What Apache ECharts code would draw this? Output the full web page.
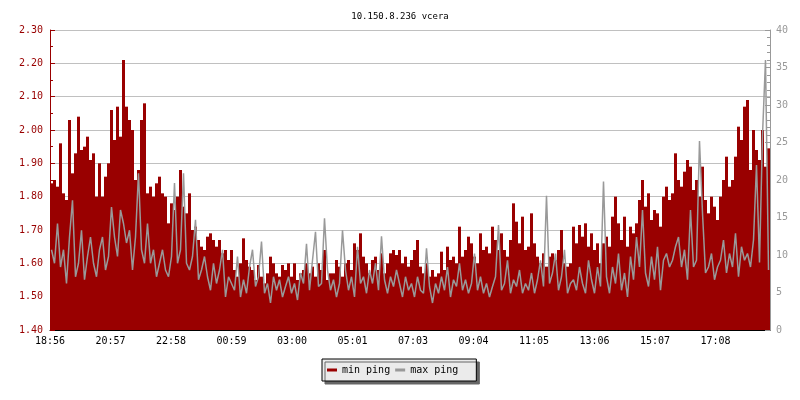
<!DOCTYPE html>
<html><head><meta charset="utf-8">
<script src="https://cdn.jsdelivr.net/npm/echarts@6/dist/echarts.min.js"></script>
<style>html,body{margin:0;padding:0;background:#fff}#c{width:800px;height:400px}</style>
</head><body><div id="c"></div>
<script>
const chartTitle = '10.150.8.236 vcera';
const seriesNames = ['min ping', 'max ping'];
const timeLabels = ['18:56','20:57','22:58','00:59','03:00','05:01','07:03','09:04','11:05','13:06','15:07','17:08'];
const sampleMinutes = 6;
const tickStepMinutes = 121;

// min ping (left axis, ms)
const minPing = [
1.84,1.85,1.83,1.96,1.81,1.79,2.03,1.87,1.93,2.04,
1.94,1.95,1.98,1.91,1.93,1.80,1.90,1.80,1.86,1.90,
2.06,1.97,2.07,1.98,2.21,2.07,2.03,2.00,1.85,1.88,
2.03,2.08,1.81,1.83,1.80,1.84,1.86,1.81,1.80,1.72,
1.78,1.76,1.80,1.88,1.77,1.75,1.81,1.70,1.71,1.67,
1.65,1.64,1.68,1.69,1.67,1.65,1.67,1.63,1.64,1.61,
1.64,1.58,1.56,1.60,1.675,1.61,1.59,1.58,1.55,1.595,
1.56,1.54,1.57,1.62,1.60,1.57,1.56,1.595,1.58,1.60,
1.56,1.60,1.55,1.57,1.58,1.60,1.57,1.59,1.56,1.60,
1.58,1.64,1.55,1.57,1.57,1.61,1.59,1.56,1.60,1.61,
1.58,1.66,1.64,1.69,1.62,1.60,1.57,1.61,1.62,1.58,
1.63,1.57,1.60,1.63,1.64,1.625,1.64,1.60,1.62,1.59,
1.61,1.64,1.67,1.59,1.57,1.60,1.56,1.58,1.56,1.57,
1.635,1.58,1.65,1.61,1.62,1.60,1.71,1.62,1.64,1.68,
1.66,1.62,1.60,1.69,1.64,1.65,1.63,1.71,1.67,1.64,
1.69,1.64,1.62,1.67,1.78,1.725,1.66,1.74,1.64,1.65,
1.75,1.66,1.62,1.60,1.63,1.59,1.62,1.63,1.61,1.64,
1.70,1.60,1.59,1.60,1.71,1.66,1.715,1.68,1.72,1.65,
1.69,1.64,1.66,1.60,1.66,1.68,1.65,1.74,1.80,1.72,
1.67,1.74,1.65,1.71,1.69,1.72,1.79,1.85,1.77,1.81,
1.73,1.76,1.75,1.71,1.80,1.83,1.79,1.81,1.93,1.85,
1.83,1.875,1.91,1.89,1.82,1.85,1.80,1.89,1.79,1.75,
1.80,1.77,1.73,1.80,1.85,1.92,1.83,1.85,1.92,2.01,
1.97,2.07,2.09,1.88,2.00,1.94,1.91,2.00,1.89,1.945
];

// max ping (right axis, ms)
const maxPing = [
10.7,8.9,14.2,8.4,10.7,6.2,12.4,17.3,7.1,8.9,
13.3,6.7,9.8,12.4,8.9,7.1,10.7,12.4,8.0,9.8,
16.4,12.4,9.8,16.0,14.2,11.6,13.3,8.0,12.4,20.9,
10.7,8.9,14.2,8.9,10.7,7.1,8.9,10.7,8.0,7.1,
9.8,19.6,8.9,10.7,20.9,8.9,8.0,9.8,14.7,6.7,
8.0,9.8,7.1,5.3,8.9,6.2,8.0,10.7,4.4,7.1,
6.2,5.3,9.8,4.4,6.7,4.9,8.4,10.7,5.8,7.1,
11.8,4.9,6.2,3.6,7.1,5.3,6.7,4.4,5.8,7.1,
4.9,6.2,4.0,7.6,6.2,11.5,5.3,9.3,13.1,5.8,
6.2,14.9,8.0,5.3,6.7,4.4,6.2,13.3,8.0,5.3,
7.1,4.4,11.1,6.2,7.1,4.9,8.0,6.2,8.9,5.3,
12.5,6.7,4.9,7.1,5.8,8.0,6.2,4.4,7.1,5.3,
6.2,4.4,7.1,5.3,4.9,10.9,5.8,3.6,6.2,4.9,
7.1,5.3,8.4,4.4,6.7,5.8,8.9,5.3,6.7,4.9,
6.2,10.2,5.3,7.1,4.9,6.2,4.4,5.8,7.1,14.0,
5.3,6.2,9.3,4.9,6.7,5.8,8.0,4.9,6.2,5.3,
7.6,4.9,6.7,9.3,5.8,17.9,6.2,7.6,10.2,5.3,
7.1,10.7,4.9,6.2,6.7,5.3,8.4,6.2,4.9,9.3,
6.7,4.9,8.4,5.8,19.8,7.1,4.9,8.4,6.2,10.2,
5.3,7.6,4.4,9.8,6.7,12.4,8.4,16.0,7.6,5.8,
9.8,6.7,11.1,5.3,9.3,10.2,8.4,9.3,11.1,12.4,
8.4,10.7,6.7,16.0,8.4,9.3,25.2,15.6,7.6,8.4,
10.2,6.7,8.4,9.3,12.0,7.6,10.2,8.4,12.9,7.1,
11.1,9.3,10.2,8.4,12.0,22.0,9.0,26.0,36.0,8.0
];

const FONT = 'DejaVu Sans Mono';
const RED = '#990000';
const GRAY = '#999999';

const spanMinutes = minPing.length * sampleMinutes;
const tickValues = timeLabels.map((_, k) => k * tickStepMinutes);
const minData = minPing.map((v, i) => [i * sampleMinutes + sampleMinutes / 2, v]);
const maxData = maxPing.map((v, i) => [i * sampleMinutes + sampleMinutes / 2, v]);

const chart = echarts.init(document.getElementById('c'), null, {renderer: 'canvas'});
chart.setOption({
  animation: false,
  backgroundColor: '#ffffff',
  title: {
    text: chartTitle, left: 'center', top: 7,
    textStyle: {fontFamily: FONT, fontSize: 9, fontWeight: 'normal', color: '#000'}
  },
  grid: {left: 50, right: 30, top: 30, bottom: 70},
  legend: {
    left: 322, top: 359,
    backgroundColor: '#ebebeb', borderColor: '#000', borderWidth: 1,
    shadowColor: '#666666', shadowOffsetX: 3, shadowOffsetY: 3, shadowBlur: 0,
    padding: [6, 18, 6, 5],
    itemWidth: 10, itemHeight: 3, itemGap: 5,
    textStyle: {fontFamily: FONT, fontSize: 10, color: '#000'},
    data: [
      {name: seriesNames[0], icon: 'rect', itemStyle: {color: RED}},
      {name: seriesNames[1], icon: 'rect', itemStyle: {color: GRAY}}
    ]
  },
  xAxis: {
    type: 'value', min: 0, max: spanMinutes,
    axisLine: {onZero: false, lineStyle: {color: '#000'}},
    axisTick: {inside: true, length: 5, customValues: tickValues, lineStyle: {color: '#000'}},
    axisLabel: {
      customValues: tickValues, margin: 6, color: '#000',
      fontFamily: FONT, fontSize: 10,
      formatter: v => timeLabels[Math.round(v / tickStepMinutes)] || ''
    },
    splitLine: {show: false}
  },
  yAxis: [
    {
      type: 'value', min: 1.4, max: 2.3, interval: 0.1, position: 'left',
      axisLine: {show: true, lineStyle: {color: RED}},
      axisTick: {show: true, inside: true, length: 5, lineStyle: {color: RED}},
      minorTick: {show: true, splitNumber: 2, length: 3, lineStyle: {color: RED}},
      axisLabel: {color: RED, fontFamily: FONT, fontSize: 10, margin: 7, formatter: v => v.toFixed(2)},
      splitLine: {show: true, lineStyle: {color: '#c0c0c0', width: 1}}
    },
    {
      type: 'value', min: 0, max: 40, interval: 5, position: 'right',
      axisLine: {show: true, lineStyle: {color: GRAY}},
      axisTick: {show: true, inside: true, length: 5, lineStyle: {color: GRAY}},
      minorTick: {show: true, splitNumber: 5, length: 3, lineStyle: {color: GRAY}},
      axisLabel: {color: GRAY, fontFamily: FONT, fontSize: 10, margin: 6},
      splitLine: {show: false}
    }
  ],
  series: [
    {
      name: seriesNames[0], type: 'bar', yAxisIndex: 0, data: minData,
      barWidth: 3, clip: true, itemStyle: {color: RED}, z: 2
    },
    {
      name: seriesNames[1], type: 'line', yAxisIndex: 1, data: maxData,
      symbol: 'none', showSymbol: false,
      lineStyle: {color: GRAY, width: 1.5}, itemStyle: {color: GRAY}, z: 3
    }
  ]
});
</script>
</body></html>
